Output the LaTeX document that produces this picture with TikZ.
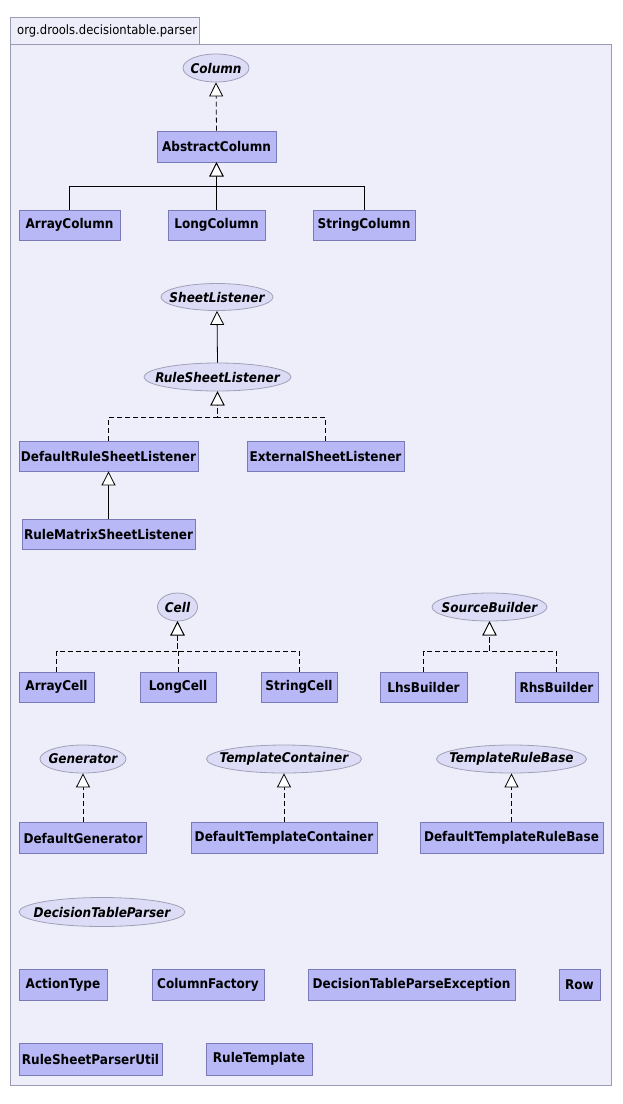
\documentclass[tikz,border=0pt]{standalone}
\usepackage{fontspec}
\setmainfont{DejaVu Sans Condensed}
\usetikzlibrary{shapes.geometric,arrows.meta}
\definecolor{pkgfill}{HTML}{EEEEFA}
\definecolor{pkgline}{HTML}{9A9AB2}
\definecolor{clsfill}{HTML}{B8B8F6}
\definecolor{clsline}{HTML}{7A7AB8}
\definecolor{iffill}{HTML}{DCDCF6}
\definecolor{ifline}{HTML}{A0A0B8}
% interface labels take no width, so the ellipse keeps its given size
\newcommand{\ifl}[1]{\makebox[0pt]{#1}}
\tikzset{
  cls/.style={rectangle, draw=clsline, fill=clsfill, line width=0.8pt, inner sep=0pt,
    minimum height=31pt, font=\fontsize{13.4}{15}\selectfont\bfseries},
  iface/.style={ellipse, draw=ifline, fill=iffill, line width=0.8pt, inner sep=0pt,
    minimum height=28pt, font=\fontsize{13.4}{15}\selectfont\bfseries\itshape},
  rel/.style={line width=0.8pt, -{Triangle[length=14pt,width=14pt,fill=white,line width=0.8pt]}},
  impl/.style={rel, dash pattern=on 5pt off 3pt},
  ext/.style={rel}
}
\begin{document}
\begin{tikzpicture}[x=1pt,y=-1pt]
\useasboundingbox[fill=white] (0,0) rectangle (622,1104);
% package frame
\draw[pkgline, fill=pkgfill, line width=0.8pt] (10,17) rectangle (199,44);
\draw[pkgline, fill=pkgfill, line width=0.8pt] (10,44) rectangle (611,1085);
\node[anchor=west, inner sep=0pt, font=\fontsize{12.9}{15}\selectfont] (pkg) at (17,31) {org.drools.decisiontable.parser};

% column hierarchy
\node[iface, minimum width=66pt] (column) at (216,68) {\ifl{Column}};
\node[cls, minimum width=119pt] (abstract) at (216.5,146.5) {AbstractColumn};
\node[cls, minimum width=101pt, minimum height=30pt] (arraycol) at (69.5,225) {ArrayColumn};
\node[cls, minimum width=97pt, minimum height=30pt] (longcol) at (216.5,225) {LongColumn};
\node[cls, minimum width=102pt, minimum height=30pt] (stringcol) at (364,225) {StringColumn};
\coordinate (colbar) at (216.5,186);
\draw[impl] (abstract.north) -- (column.south);
\draw[ext] (arraycol.north) |- (colbar) -- (abstract.south);
\draw[ext] (longcol.north) -- (abstract.south);
\draw[ext] (stringcol.north) |- (colbar) -- (abstract.south);

% listener hierarchy
\node[iface, minimum width=112pt, minimum height=27pt] (sheetl) at (217,297) {\ifl{SheetListener}};
\node[iface, minimum width=147pt] (rulesheetl) at (217.5,377) {\ifl{RuleSheetListener}};
\node[cls, minimum width=179pt, minimum height=30pt] (defrsl) at (108.5,456) {DefaultRuleSheetListener};
\node[cls, minimum width=157pt, minimum height=30pt] (extsl) at (325.5,456) {ExternalSheetListener};
\node[cls, minimum width=173pt, minimum height=30pt] (rmsl) at (108.5,534) {RuleMatrixSheetListener};
\coordinate (lsbar) at (217.5,417);
\draw[ext] (rulesheetl.north) -- (sheetl.south);
\draw[impl] (defrsl.north) |- (lsbar) -- (rulesheetl.south);
\draw[impl] (extsl.north) |- (lsbar) -- (rulesheetl.south);
\draw[ext] (rmsl.north) -- (defrsl.south);

% cell hierarchy
\node[iface, minimum width=40pt] (cell) at (177.5,607) {\ifl{Cell}};
\node[cls, minimum width=75pt, minimum height=30pt] (arraycell) at (56.5,687) {ArrayCell};
\node[cls, minimum width=76pt, minimum height=30pt] (longcell) at (178,687) {LongCell};
\node[cls, minimum width=76pt, minimum height=30pt] (stringcell) at (299,687) {StringCell};
\coordinate (cellbar) at (177.5,651);
\draw[impl] (arraycell.north) |- (cellbar) -- (cell.south);
\draw[impl] (longcell.north) |- (cellbar) -- (cell.south);
\draw[impl] (stringcell.north) |- (cellbar) -- (cell.south);

% builder hierarchy
\node[iface, minimum width=115pt] (sourceb) at (489.5,607) {\ifl{SourceBuilder}};
\node[cls, minimum width=87pt, minimum height=30pt] (lhs) at (423.5,687) {LhsBuilder};
\node[cls, minimum width=83pt, minimum height=30pt] (rhs) at (556.5,687) {RhsBuilder};
\coordinate (srcbar) at (489.5,651);
\draw[impl] (lhs.north) |- (srcbar) -- (sourceb.south);
\draw[impl] (rhs.north) |- (srcbar) -- (sourceb.south);

% generator / templates
\node[iface, minimum width=86pt] (generator) at (83,759) {\ifl{Generator}};
\node[cls, minimum width=127pt] (defgen) at (83,838) {DefaultGenerator};
\node[iface, minimum width=155pt] (tcont) at (284,759) {\ifl{TemplateContainer}};
\node[cls, minimum width=186pt] (deftcont) at (284,838) {DefaultTemplateContainer};
\node[iface, minimum width=150pt] (trb) at (511.5,759) {\ifl{TemplateRuleBase}};
\node[cls, minimum width=183pt] (deftrb) at (511.5,838) {DefaultTemplateRuleBase};
\draw[impl] (defgen.north) -- (generator.south);
\draw[impl] (deftcont.north) -- (tcont.south);
\draw[impl] (deftrb.north) -- (trb.south);

% standalone types
\node[iface, minimum width=166pt, minimum height=29pt] (dtp) at (102,912) {\ifl{DecisionTableParser}};
\node[cls, minimum width=88pt] (actiontype) at (63,985) {ActionType};
\node[cls, minimum width=112pt] (colfactory) at (208,985) {ColumnFactory};
\node[cls, minimum width=207pt] (dtpe) at (411.5,985) {DecisionTableParseException};
\node[cls, minimum width=41pt] (row) at (579.5,985) {Row};
\node[cls, minimum width=143pt, minimum height=32pt] (rspu) at (90.5,1059) {RuleSheetParserUtil};
\node[cls, minimum width=106pt, minimum height=32pt] (ruletemplate) at (259,1059) {RuleTemplate};
\end{tikzpicture}
\end{document}
